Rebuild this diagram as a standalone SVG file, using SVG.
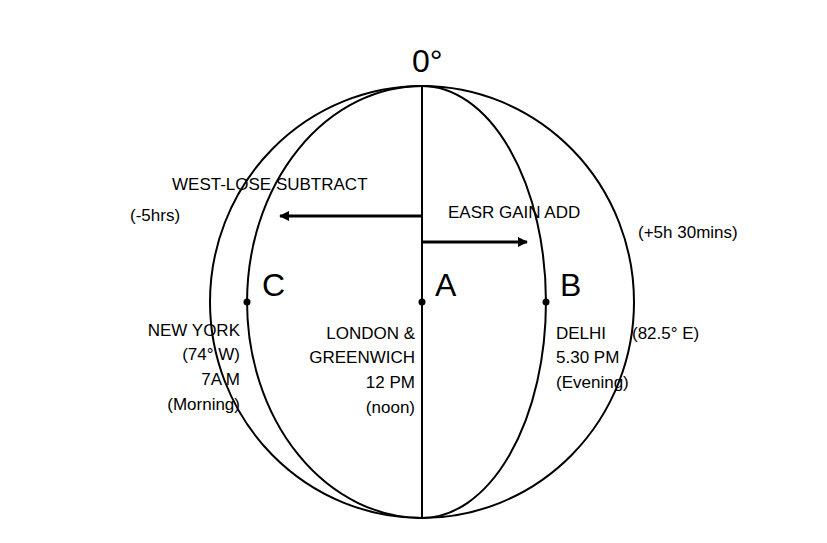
<svg xmlns="http://www.w3.org/2000/svg" width="827" height="543" viewBox="0 0 827 543">
<style>
.l{fill:none;stroke:#000;stroke-width:2}
text{font-family:"Liberation Sans",Arial,sans-serif;fill:#000}
.s{font-size:17px}
.b{font-size:32px}
</style>
<defs><marker id="ah" markerWidth="10" markerHeight="10" refX="9" refY="5" orient="auto" markerUnits="userSpaceOnUse"><path d="M0,0 L10,5 L0,10 z" fill="#000"/></marker></defs>
<rect width="827" height="543" fill="#fff"/>
<g id="globe">
<ellipse class="l" cx="422" cy="302" rx="212" ry="216"/>
<path class="l" d="M422,86 A175,216 0 0 0 422,518"/>
<path class="l" d="M422,86 A124,216 0 0 1 422,518"/>
<line class="l" x1="422" y1="86" x2="422" y2="518"/>
</g>
<g id="connectors">
<line x1="422" y1="216" x2="280" y2="216" stroke="#000" stroke-width="3" marker-end="url(#ah)"/>
<line x1="422" y1="242" x2="527" y2="242" stroke="#000" stroke-width="3" marker-end="url(#ah)"/>
</g>
<g id="C"><circle cx="247" cy="302" r="3.5"/><text class="b" x="262" y="296">C</text></g>
<g id="A"><circle cx="422" cy="302" r="3.5"/><text class="b" x="435" y="296">A</text></g>
<g id="B"><circle cx="546" cy="302" r="3.5"/><text class="b" x="560" y="296">B</text></g>
<g id="labels" class="s">
<text class="b" x="412" y="72">0°</text>
<text class="s" x="172" y="190">WEST-LOSE SUBTRACT</text>
<text class="s" x="130" y="221">(-5hrs)</text>
<text class="s" x="448" y="218">EASR GAIN ADD</text>
<text class="s" x="638" y="238">(+5h 30mins)</text>
<text class="s" text-anchor="end" x="240" y="336">NEW YORK</text>
<text class="s" text-anchor="end" x="240" y="360">(74° W)</text>
<text class="s" text-anchor="end" x="240" y="385">7A M</text>
<text class="s" text-anchor="end" x="240" y="410">(Morning)</text>
<text class="s" text-anchor="end" x="415" y="339">LONDON &amp;</text>
<text class="s" text-anchor="end" x="415" y="363">GREENWICH</text>
<text class="s" text-anchor="end" x="415" y="388">12 PM</text>
<text class="s" text-anchor="end" x="415" y="413">(noon)</text>
<text class="s" x="556" y="339">DELHI</text>
<text class="s" x="632" y="339">(82.5° E)</text>
<text class="s" x="556" y="363">5.30 PM</text>
<text class="s" x="556" y="388">(Evening)</text>
</g>
</svg>
